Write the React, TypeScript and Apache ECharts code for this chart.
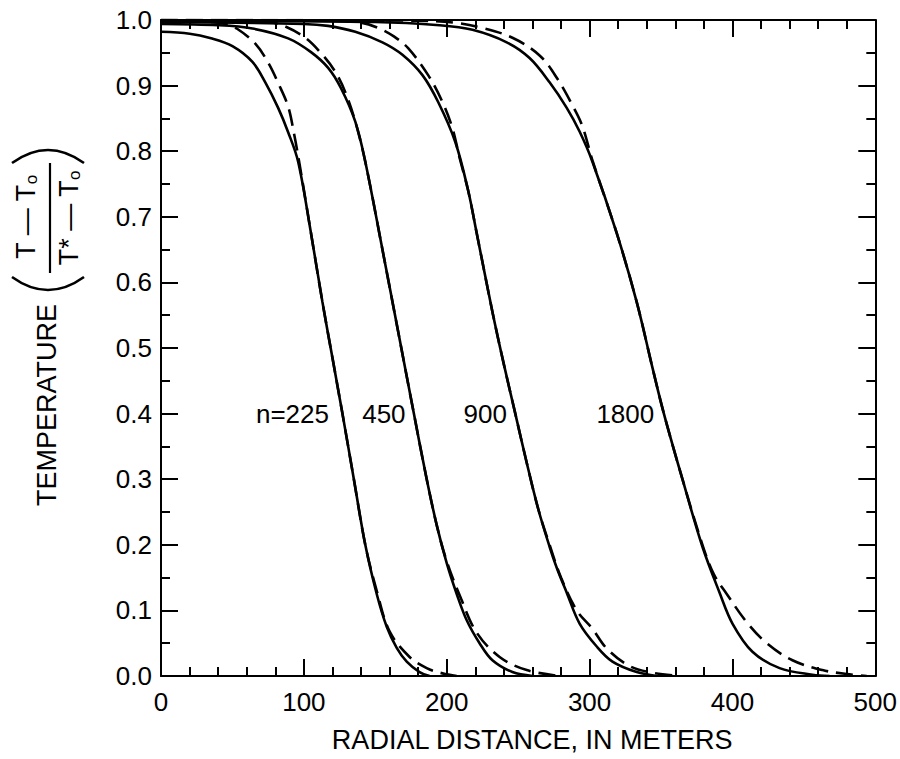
import React, { useEffect, useRef } from "react";
import * as echarts from "echarts";

const FONT = "'Liberation Sans', Arial, Helvetica, sans-serif";

// x ticks / y ticks
const xTicks = [0, 100, 200, 300, 400, 500];
const yTicks = [0, 0.1, 0.2, 0.3, 0.4, 0.5, 0.6, 0.7, 0.8, 0.9, 1.0];

// Solid curves [distance m, temperature ratio]
const solid225 = [
  [0, 0.982], [20, 0.979], [35, 0.972], [50, 0.96], [64, 0.936], [73, 0.905], [82, 0.866],
  [89, 0.829], [96, 0.784], [105, 0.675], [113, 0.57], [120, 0.485], [127, 0.4], [135, 0.3],
  [143, 0.2], [151, 0.125], [158, 0.075], [165, 0.043], [172, 0.022], [181, 0.006], [188, 0],
];
const dashed225 = [
  [0, 1.0], [30, 0.998], [45, 0.994], [53, 0.987], [66, 0.964], [75, 0.935], [82, 0.904],
  [89, 0.868], [93, 0.828], [97, 0.78], [105, 0.675], [113, 0.57], [120, 0.485], [127, 0.4],
  [135, 0.3], [143, 0.2], [151, 0.13], [160, 0.068], [174, 0.029], [186, 0.012], [197, 0.004], [207, 0],
];
const solid450 = [
  [0, 0.994], [40, 0.992], [64, 0.987], [89, 0.972], [105, 0.951], [117, 0.927], [126, 0.896],
  [136, 0.845], [143, 0.784], [155, 0.65], [166, 0.525], [177, 0.4], [186, 0.3], [193, 0.23],
  [200, 0.172], [207, 0.125], [214, 0.085], [223, 0.05], [232, 0.024], [246, 0.006], [260, 0],
];
const dashed450 = [
  [0, 1.0], [60, 0.999], [75, 0.997], [85, 0.992], [101, 0.973], [113, 0.947], [122, 0.921],
  [129, 0.89], [136, 0.845], [143, 0.784], [155, 0.65], [166, 0.525], [177, 0.4], [186, 0.3],
  [193, 0.23], [200, 0.175], [210, 0.118], [221, 0.066], [237, 0.029], [256, 0.009], [279, 0],
];
const solid900 = [
  [0, 0.997], [100, 0.994], [117, 0.991], [136, 0.982], [155, 0.966], [169, 0.947], [183, 0.916],
  [194, 0.875], [206, 0.814], [215, 0.74], [221, 0.675], [232, 0.555], [240, 0.475], [248, 0.4],
  [256, 0.325], [264, 0.255], [272, 0.197], [277, 0.165], [284, 0.127], [293, 0.08], [305, 0.045],
  [316, 0.022], [333, 0.006], [347, 0],
];
const dashed900 = [
  [0, 1.0], [120, 0.999], [140, 0.996], [152, 0.988], [163, 0.975], [173, 0.957], [187, 0.916],
  [197, 0.875], [204, 0.835], [209, 0.79], [215, 0.74], [221, 0.675], [232, 0.555], [240, 0.475],
  [248, 0.4], [256, 0.325], [264, 0.255], [272, 0.2], [280, 0.15], [291, 0.1], [302, 0.072],
  [312, 0.042], [328, 0.015], [344, 0.005], [363, 0],
];
const solid1800 = [
  [0, 0.999], [150, 0.997], [195, 0.992], [218, 0.985], [242, 0.966], [258, 0.942], [272, 0.905],
  [284, 0.866], [293, 0.83], [302, 0.784], [319, 0.675], [333, 0.57], [344, 0.47], [352, 0.4],
  [365, 0.3], [379, 0.197], [391, 0.127], [400, 0.08], [414, 0.037], [433, 0.012], [456, 0.002], [468, 0],
];
const dashed1800 = [
  [0, 1.0], [180, 0.999], [205, 0.996], [223, 0.989], [246, 0.973], [265, 0.946], [277, 0.912],
  [288, 0.87], [295, 0.838], [302, 0.786], [319, 0.675], [333, 0.57], [344, 0.47], [352, 0.4],
  [365, 0.3], [379, 0.2], [387, 0.155], [396, 0.125], [410, 0.082], [424, 0.05], [442, 0.024],
  [463, 0.009], [480, 0.003], [494, 0],
];

// Curve labels
const curveLabels = ["n=225", "450", "900", "1800"];
const curveLabelX = [92, 156, 227, 325];
const curveLabelY = [0.4, 0.4, 0.4, 0.4];

const xTitle = "RADIAL DISTANCE, IN METERS";
const yTitleWord = "TEMPERATURE";

export default function App() {
  const ref = useRef<HTMLDivElement>(null);

  useEffect(() => {
    if (!ref.current) return;
    const chart = echarts.init(ref.current, undefined, { renderer: "svg" });

    const black = "#000";
    const axisLine = { show: true, onZero: false, lineStyle: { color: black, width: 2 } };
    const tick = { show: true, inside: true, length: 17, lineStyle: { color: black, width: 2 } };

    const xBase = {
      type: "value" as const,
      min: xTicks[0],
      max: xTicks[xTicks.length - 1],
      interval: 100,
      axisLine,
      axisTick: tick,
      minorTick: { show: true, splitNumber: 5, length: 9, lineStyle: { color: black, width: 2 } },
      splitLine: { show: false },
      minorSplitLine: { show: false },
    };
    const yBase = {
      type: "value" as const,
      min: yTicks[0],
      max: yTicks[yTicks.length - 1],
      interval: 0.1,
      axisLine,
      axisTick: tick,
      minorTick: { show: true, splitNumber: 2, length: 9, lineStyle: { color: black, width: 2 } },
      splitLine: { show: false },
      minorSplitLine: { show: false },
    };

    const lineSeries = (data: number[][], dashed: boolean) => ({
      type: "line" as const,
      data,
      showSymbol: false,
      symbol: "none",
      smooth: 0.35,
      z: dashed ? 3 : 2,
      lineStyle: { color: black, width: 2.6, type: dashed ? [17, 8] : "solid" },
      silent: true,
    });

    const subStyle = { fontSize: 17, fontFamily: FONT, fill: black, verticalAlign: "bottom" as const };
    const mainStyle = { fontSize: 27, fontFamily: FONT, fill: black };

    chart.setOption({
      animation: false,
      backgroundColor: "#fff",
      grid: { left: 161, right: 24, top: 20, bottom: 83 },
      xAxis: [
        {
          ...xBase,
          position: "bottom",
          axisLabel: { fontSize: 26, color: black, fontFamily: FONT, margin: 13 },
          name: xTitle,
          nameLocation: "middle",
          nameGap: 50,
          nameTextStyle: { fontSize: 27, color: black, fontFamily: FONT, padding: [0, 0, 0, 28] },
        },
        { ...xBase, position: "top", axisLabel: { show: false } },
      ],
      yAxis: [
        {
          ...yBase,
          position: "left",
          axisLabel: {
            fontSize: 26,
            color: black,
            fontFamily: FONT,
            margin: 9,
            formatter: (v: number) => v.toFixed(1),
          },
        },
        { ...yBase, position: "right", axisLabel: { show: false } },
      ],
      series: [
        lineSeries(solid225, false),
        lineSeries(solid450, false),
        lineSeries(solid900, false),
        lineSeries(solid1800, false),
        lineSeries(dashed225, true),
        lineSeries(dashed450, true),
        lineSeries(dashed900, true),
        lineSeries(dashed1800, true),
        {
          type: "scatter",
          symbolSize: 1,
          itemStyle: { color: "rgba(255,255,255,0)", opacity: 1 },
          silent: true,
          z: 5,
          data: curveLabels.map((t, i) => ({ value: [curveLabelX[i], curveLabelY[i]], name: t })),
          label: {
            show: true,
            position: "inside",
            formatter: (p: any) => p.name,
            fontSize: 26,
            color: "#000",
            opacity: 1,
            textBorderWidth: 0,
            fontFamily: FONT,
          },
        },
      ],
      graphic: [
        {
          type: "text",
          x: 47,
          y: 405,
          rotation: Math.PI / 2,
          style: { text: yTitleWord, ...mainStyle, align: "center", verticalAlign: "middle" },
        },
        {
          type: "text",
          x: 26,
          y: 217,
          rotation: Math.PI / 2,
          style: {
            text: "{n|T — T}{s|o}",
            align: "center",
            verticalAlign: "middle",
            rich: { n: { ...mainStyle }, s: subStyle },
          },
        },
        {
          type: "text",
          x: 69,
          y: 218,
          rotation: Math.PI / 2,
          style: {
            text: "{n|T* — T}{s|o}",
            align: "center",
            verticalAlign: "middle",
            rich: { n: { ...mainStyle }, s: subStyle },
          },
        },
        {
          type: "line",
          shape: { x1: 50, y1: 163, x2: 50, y2: 273 },
          style: { stroke: black, lineWidth: 2.2 },
        },
        {
          type: "bezierCurve",
          shape: { x1: 12, y1: 277, x2: 84, y2: 277, cpx1: 48, cpy1: 303 },
          style: { stroke: black, lineWidth: 2.6, fill: "none" },
        },
        {
          type: "bezierCurve",
          shape: { x1: 12, y1: 163, x2: 84, y2: 163, cpx1: 48, cpy1: 137 },
          style: { stroke: black, lineWidth: 2.6, fill: "none" },
        },
      ],
    });

    return () => chart.dispose();
  }, []);

  return (
    <div
      ref={ref}
      style={{ position: "fixed", left: 0, top: 0, width: 900, height: 759, background: "#fff" }}
    />
  );
}
